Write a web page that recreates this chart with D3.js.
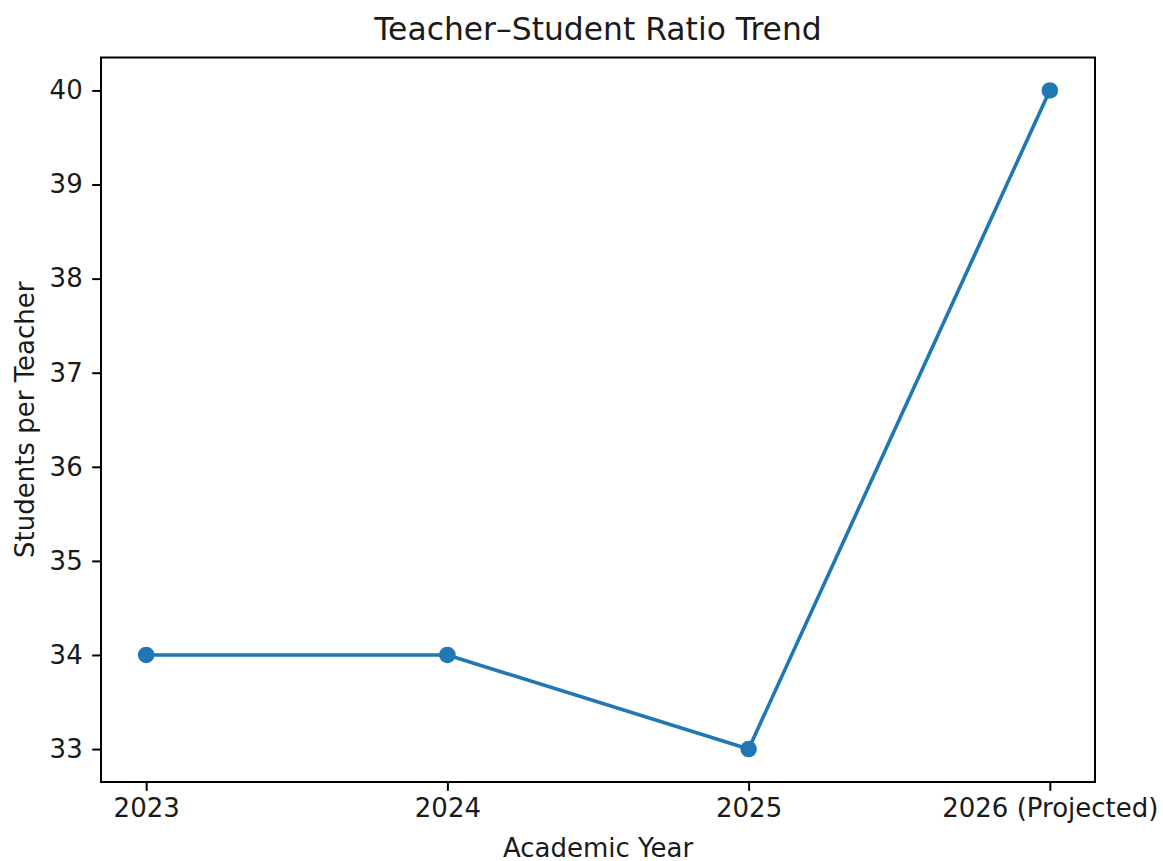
<!DOCTYPE html>
<html>
<head>
<meta charset="utf-8">
<script src="https://cdn.jsdelivr.net/npm/d3@7"></script>
<style>
  html, body { margin: 0; padding: 0; background: #fff; }
  svg { display: block; font-family: "DejaVu Sans", sans-serif; }
</style>
</head>
<body>
<svg id="chart" width="1163" height="861"></svg>
<script>
const categories = ["2023", "2024", "2025", "2026 (Projected)"];
const values = [34, 34, 33, 40];
const yTicks = [33, 34, 35, 36, 37, 38, 39, 40];
const title = "Teacher\u2013Student Ratio Trend";
const xLabel = "Academic Year";
const yLabel = "Students per Teacher";

const W = 1163, H = 861;
const m = { left: 101, right: 1095, top: 57.5, bottom: 782 };
const svg = d3.select("#chart");

const x = d3.scaleLinear().domain([-0.15, categories.length - 1 + 0.15]).range([m.left, m.right]);
const yMin = d3.min(values), yMax = d3.max(values), pad = (yMax - yMin) * 0.05;
const y = d3.scaleLinear().domain([yMin - pad, yMax + pad]).range([m.bottom, m.top]);

const tickFont = 26;
const textColor = "#1a1a1a";

// x axis
const xAxis = svg.append("g")
  .attr("transform", `translate(0,${m.bottom})`)
  .call(d3.axisBottom(x).tickValues(d3.range(categories.length)).tickFormat(i => categories[i]).tickSize(8.8).tickPadding(8));
xAxis.select(".domain").remove();
xAxis.selectAll("line").attr("stroke", "#000").attr("stroke-width", 2);
xAxis.selectAll("text").attr("fill", textColor).attr("font-size", tickFont).attr("font-family", "DejaVu Sans");

// y axis
const yAxis = svg.append("g")
  .attr("transform", `translate(${m.left},0)`)
  .call(d3.axisLeft(y).tickValues(yTicks).tickFormat(d3.format("d")).tickSize(8.8).tickPadding(9.5));
yAxis.select(".domain").remove();
yAxis.selectAll("line").attr("stroke", "#000").attr("stroke-width", 2);
yAxis.selectAll("text").attr("fill", textColor).attr("font-size", tickFont).attr("font-family", "DejaVu Sans");

// line
const line = d3.line().x((d, i) => x(i)).y(d => y(d));
svg.append("path")
  .datum(values)
  .attr("d", line)
  .attr("fill", "none")
  .attr("stroke", "#1f77b4")
  .attr("stroke-width", 3.6)
  .attr("stroke-linejoin", "round")
  .attr("stroke-linecap", "square");

svg.selectAll("circle.pt")
  .data(values)
  .enter().append("circle")
  .attr("class", "pt")
  .attr("cx", (d, i) => x(i))
  .attr("cy", d => y(d))
  .attr("r", 8.3)
  .attr("fill", "#1f77b4");

// frame
svg.append("rect")
  .attr("x", m.left).attr("y", m.top)
  .attr("width", m.right - m.left).attr("height", m.bottom - m.top)
  .attr("fill", "none").attr("stroke", "#000").attr("stroke-width", 2);

// title
svg.append("text")
  .attr("x", (m.left + m.right) / 2).attr("y", 39.5)
  .attr("text-anchor", "middle")
  .attr("font-size", 31.4).attr("fill", textColor)
  .text(title);

// x label
svg.append("text")
  .attr("x", (m.left + m.right) / 2).attr("y", 856.5)
  .attr("text-anchor", "middle")
  .attr("font-size", 26).attr("fill", textColor)
  .text(xLabel);

// y label
svg.append("text")
  .attr("transform", `translate(34,${(m.top + m.bottom) / 2}) rotate(-90)`)
  .attr("text-anchor", "middle")
  .attr("font-size", 26).attr("fill", textColor)
  .text(yLabel);
</script>
</body>
</html>
